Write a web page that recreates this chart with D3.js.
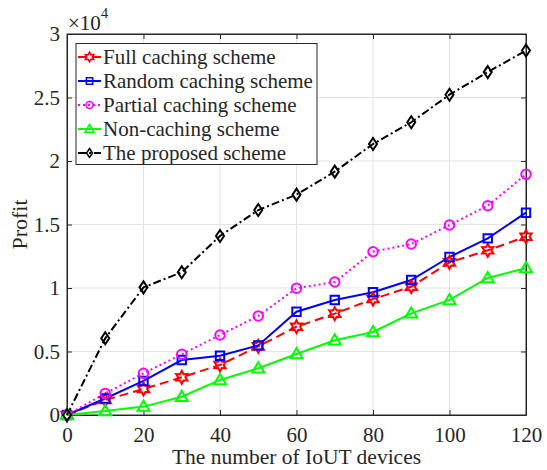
<!DOCTYPE html>
<html>
<head>
<meta charset="utf-8">
<script src="https://cdn.jsdelivr.net/npm/d3@7"></script>
<style>
  body { margin: 0; background: #fff; }
  text { font-family: "Liberation Serif", "Times New Roman", serif; fill: #262626; }
</style>
</head>
<body>
<div id="chart"></div>
<script>
/* profit vs number of IoUT devices */

// data (profit, x10^4 shown on the axis)
const devices = [0, 10, 20, 30, 40, 50, 60, 70, 80, 90, 100, 110, 120];
const fullCaching = [0, 1180, 2050, 2970, 3940, 5400, 6950, 7980, 9130, 10100, 12020, 12970, 14040];
const randomCaching = [0, 1300, 2680, 4330, 4670, 5480, 8130, 9060, 9660, 10630, 12440, 13910, 15930];
const partialCaching = [0, 1700, 3280, 4780, 6300, 7800, 9980, 10470, 12860, 13460, 14960, 16480, 18950];
const nonCaching = [0, 310, 660, 1440, 2760, 3680, 4800, 5880, 6540, 8000, 9060, 10790, 11570];
const proposed = [0, 6040, 10050, 11240, 14100, 16140, 17350, 19160, 21340, 23050, 25220, 27000, 28700];

const xTicks = [0, 20, 40, 60, 80, 100, 120];
const yTicks = [0, 5000, 10000, 15000, 20000, 25000, 30000];

const seriesNames = ["Full caching scheme", "Random caching scheme", "Partial caching scheme",
  "Non-caching scheme", "The proposed scheme"];


class ProfitChart {

  constructor(parentElement) {
    this.parentElement = parentElement;
    this.initVis();
  }

  initVis() {
    let vis = this;

    vis.width = 547;
    vis.height = 470;
    vis.margin = {top: 34, right: 21, bottom: 55, left: 67};

    vis.svg = d3.select(vis.parentElement).append("svg")
      .attr("width", vis.width)
      .attr("height", vis.height);

    vis.x = d3.scaleLinear().domain([0, 120])
      .range([vis.margin.left, vis.width - vis.margin.right]);
    vis.y = d3.scaleLinear().domain([0, 30000])
      .range([vis.height - vis.margin.bottom, vis.margin.top]);

    vis.series = [
      {name: seriesNames[0], values: fullCaching, color: "#ff0000", dash: "9,5", marker: "hexagram"},
      {name: seriesNames[1], values: randomCaching, color: "#0000ff", dash: null, marker: "square"},
      {name: seriesNames[2], values: partialCaching, color: "#ff00ff", dash: "2,3", marker: "circle"},
      {name: seriesNames[3], values: nonCaching, color: "#00ff00", dash: null, marker: "triangle"},
      {name: seriesNames[4], values: proposed, color: "#000000", dash: "8,3,2,3", marker: "diamond"}
    ];

    vis.updateVis();
  }

  markerPath(type) {
    if (type == "hexagram") {
      let pts = [];
      for (let i = 0; i < 12; i++) {
        let r = i % 2 == 0 ? 6.5 : 3.6;
        let a = Math.PI / 6 * i - Math.PI / 2;
        pts.push([r * Math.cos(a), r * Math.sin(a)]);
      }
      return "M" + pts.map(p => p.join(",")).join("L") + "Z";
    }
    if (type == "square") return "M-4.2,-4.2L4.2,-4.2L4.2,4.2L-4.2,4.2Z";
    if (type == "circle") return d3.symbol(d3.symbolCircle, 70)();
    if (type == "triangle") return "M0,-6L6,4.2L-6,4.2Z";
    if (type == "diamond") return "M0,-6L4,0L0,6L-4,0Z";
  }

  updateVis() {
    let vis = this;
    let x0 = vis.margin.left, x1 = vis.width - vis.margin.right;
    let y0 = vis.height - vis.margin.bottom, y1 = vis.margin.top;

    // grid
    vis.svg.append("g").selectAll("line.vgrid")
      .data(xTicks.slice(1, -1))
      .enter().append("line")
      .attr("x1", d => vis.x(d)).attr("x2", d => vis.x(d))
      .attr("y1", y0).attr("y2", y1)
      .attr("stroke", "#e3e3e3").attr("stroke-width", 1);
    vis.svg.append("g").selectAll("line.hgrid")
      .data(yTicks.slice(1, -1))
      .enter().append("line")
      .attr("x1", x0).attr("x2", x1)
      .attr("y1", d => vis.y(d)).attr("y2", d => vis.y(d))
      .attr("stroke", "#e3e3e3").attr("stroke-width", 1);

    // axes
    let xAxis = vis.svg.append("g")
      .attr("transform", "translate(0," + y0 + ")")
      .call(d3.axisBottom(vis.x).tickValues(xTicks).tickSizeInner(-5).tickSizeOuter(0).tickPadding(12));
    let yAxis = vis.svg.append("g")
      .attr("transform", "translate(" + x0 + ",0)")
      .call(d3.axisLeft(vis.y).tickValues(yTicks).tickSizeInner(-5).tickSizeOuter(0).tickPadding(7)
        .tickFormat(d => d / 10000));
    vis.svg.append("g")
      .attr("transform", "translate(0," + y1 + ")")
      .call(d3.axisTop(vis.x).tickValues(xTicks).tickSizeInner(-5).tickSizeOuter(0).tickFormat(""));
    vis.svg.append("g")
      .attr("transform", "translate(" + x1 + ",0)")
      .call(d3.axisRight(vis.y).tickValues(yTicks).tickSizeInner(-5).tickSizeOuter(0).tickFormat(""));

    vis.svg.selectAll(".domain").attr("stroke", "#262626");
    vis.svg.selectAll(".tick line").attr("stroke", "#262626");
    vis.svg.selectAll(".tick text")
      .style("font-family", "'Liberation Serif', serif")
      .style("font-size", "21px")
      .attr("fill", "#262626");
    xAxis.selectAll(".tick text").attr("dy", "0.71em");

    vis.svg.append("rect")
      .attr("x", x0).attr("y", y1)
      .attr("width", x1 - x0).attr("height", y0 - y1)
      .attr("fill", "none").attr("stroke", "#262626").attr("stroke-width", 1);

    // lines + markers
    let line = d3.line()
      .x((d, i) => vis.x(devices[i]))
      .y(d => vis.y(d));

    vis.series.forEach(s => {
      vis.svg.append("path")
        .datum(s.values)
        .attr("d", line)
        .attr("fill", "none")
        .attr("stroke", s.color)
        .attr("stroke-width", 2)
        .attr("stroke-dasharray", s.dash);
    });
    vis.series.forEach(s => {
      vis.svg.append("g").selectAll("path")
        .data(s.values)
        .enter().append("path")
        .attr("d", vis.markerPath(s.marker))
        .attr("transform", (d, i) => "translate(" + vis.x(devices[i]) + "," + vis.y(d) + ")")
        .attr("fill", "none")
        .attr("stroke", s.color)
        .attr("stroke-width", 2);
    });

    // exponent label
    let expo = vis.svg.append("text")
      .attr("x", 68).attr("y", 30)
      .style("font-size", "21px");
    expo.append("tspan").text("\u00d710");
    expo.append("tspan").attr("dy", -12).style("font-size", "15px").text("4");

    // axis titles
    vis.svg.append("text")
      .attr("x", (x0 + x1) / 2).attr("y", 464)
      .attr("text-anchor", "middle")
      .style("font-size", "21.5px")
      .text("The number of IoUT devices");
    vis.svg.append("text")
      .attr("transform", "translate(27," + ((y0 + y1) / 2) + ") rotate(-90)")
      .attr("text-anchor", "middle")
      .style("font-size", "22px")
      .text("Profit");

    // legend
    let lg = vis.svg.append("g").attr("transform", "translate(76,43.5)");
    lg.append("rect")
      .attr("width", 241).attr("height", 121)
      .attr("fill", "#fff").attr("stroke", "#262626").attr("stroke-width", 1);
    let rows = lg.selectAll("g.row")
      .data(vis.series)
      .enter().append("g")
      .attr("transform", (d, i) => "translate(0," + (13.5 + i * 24) + ")");
    rows.append("line")
      .attr("x1", 2).attr("x2", 25)
      .attr("stroke", d => d.color).attr("stroke-width", 2)
      .attr("stroke-dasharray", d => d.dash);
    rows.append("path")
      .attr("d", d => vis.markerPath(d.marker))
      .attr("transform", "translate(13.5,0) scale(0.75)")
      .attr("fill", "none")
      .attr("stroke", d => d.color).attr("stroke-width", 2);
    rows.append("text")
      .attr("x", 27).attr("dy", "0.35em")
      .style("font-size", "21px")
      .text(d => d.name);
  }
}

let chart = new ProfitChart("#chart");
</script>
</body>
</html>
